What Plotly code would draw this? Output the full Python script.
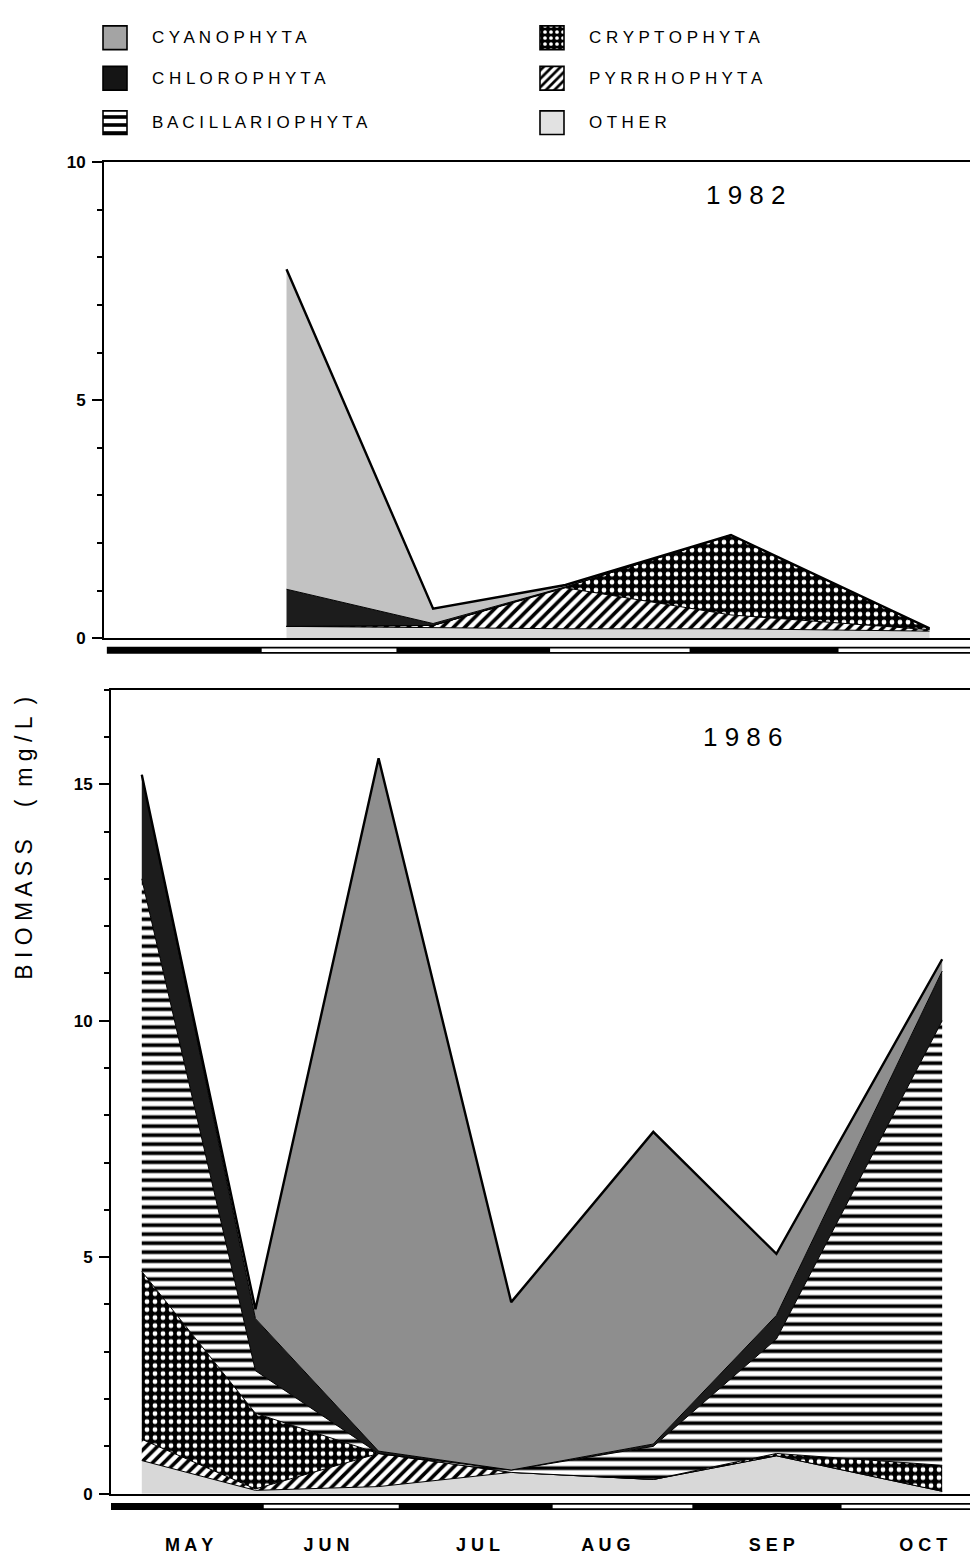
import plotly.graph_objects as go
import pandas as pd

# page is 978 x 1558; the browser puts the plot div 8 px in from the top-left corner
OFF = 8
W, H = 978 - OFF, 1558 - OFF

# ---------------------------------------------------------------- data
# stacking order, bottom -> top
TAXA = ["Other", "Pyrrhophyta", "Cryptophyta", "Bacillariophyta", "Chlorophyta", "Cyanophyta"]

DATES_1982 = ["1982-06-07", "1982-07-08", "1982-08-05", "1982-09-09", "1982-10-21"]
OTHER_1982 = [0.25, 0.22, 0.20, 0.20, 0.15]
PYRRHO_1982 = [0.00, 0.05, 0.86, 0.29, 0.03]
CRYPTO_1982 = [0.00, 0.00, 0.02, 1.68, 0.02]
BACILL_1982 = [0.00, 0.00, 0.00, 0.00, 0.00]
CHLORO_1982 = [0.78, 0.04, 0.00, 0.00, 0.00]
CYANO_1982 = [6.72, 0.31, 0.04, 0.00, 0.01]

DATES_1986 = ["1986-05-07", "1986-05-31", "1986-06-26", "1986-07-24",
              "1986-08-23", "1986-09-18", "1986-10-23"]
OTHER_1986 = [0.70, 0.07, 0.15, 0.45, 0.30, 0.80, 0.05]
PYRRHO_1986 = [0.45, 0.03, 0.70, 0.00, 0.00, 0.00, 0.00]
CRYPTO_1986 = [3.55, 1.60, 0.00, 0.00, 0.00, 0.05, 0.55]
BACILL_1986 = [8.30, 0.90, 0.00, 0.05, 0.70, 2.42, 9.40]
CHLORO_1986 = [2.20, 1.10, 0.05, 0.00, 0.05, 0.50, 1.05]
CYANO_1986 = [0.00, 0.20, 14.65, 3.55, 6.60, 1.30, 0.25]

MONTH_LABELS = ["MAY", "JUN", "JUL", "AUG", "SEP", "OCT"]
MONTH_LABEL_DAYS = ["05-17", "06-15", "07-17", "08-13", "09-17", "10-19"]
MONTH_STARTS = ["05-01", "06-01", "07-01", "08-01", "09-01", "10-01", "11-01"]

Y_TICKS_1982 = [0, 5, 10]
Y_TICKS_1986 = [0, 5, 10, 15]

LEGEND_ORDER = ["Cyanophyta", "Chlorophyta", "Bacillariophyta",
                "Cryptophyta", "Pyrrhophyta", "Other"]

SERIES_1982 = {"Other": OTHER_1982, "Pyrrhophyta": PYRRHO_1982, "Cryptophyta": CRYPTO_1982,
               "Bacillariophyta": BACILL_1982, "Chlorophyta": CHLORO_1982, "Cyanophyta": CYANO_1982}
SERIES_1986 = {"Other": OTHER_1986, "Pyrrhophyta": PYRRHO_1986, "Cryptophyta": CRYPTO_1986,
               "Bacillariophyta": BACILL_1986, "Chlorophyta": CHLORO_1986, "Cyanophyta": CYANO_1986}

# ---------------------------------------------------------------- styles
FONT = "Liberation Sans"


def px_x(p):
    return (p - OFF) / W


def px_y(p):
    return 1 - (p - OFF) / H


def pat(shape, fg, bg, size, solidity):
    return dict(shape=shape, fgcolor=fg, bgcolor=bg, size=size, solidity=solidity,
                fillmode="replace", fgopacity=1)


FILL = {
    "Other": dict(fillcolor="#d8d8d8"),
    "Pyrrhophyta": dict(fillcolor="white", fillpattern=pat("/", "black", "white", 8, 0.45)),
    "Cryptophyta": dict(fillcolor="black", fillpattern=pat(".", "white", "black", 8, 0.28)),
    "Bacillariophyta": dict(fillcolor="white", fillpattern=pat("-", "black", "white", 9, 0.42)),
    "Chlorophyta": dict(fillcolor="#1c1c1c"),
}
CYANO_COLOR = {"1982": "#c2c2c2", "1986": "#8e8e8e"}

LEG_STYLE = {
    "Cyanophyta": dict(color="#a4a4a4"),
    "Chlorophyta": dict(color="#151515"),
    "Bacillariophyta": dict(color="white", pattern=pat("-", "black", "white", 8, 0.45)),
    "Cryptophyta": dict(color="black", pattern=pat(".", "white", "black", 6, 0.3)),
    "Pyrrhophyta": dict(color="white", pattern=pat("/", "black", "white", 6, 0.45)),
    "Other": dict(color="#e2e2e2"),
}

fig = go.Figure()


def add_panel(dates, series, xa, ya, group, year):
    for name in TAXA:
        kw = dict(FILL.get(name, {}))
        if name == "Cyanophyta":
            kw = dict(fillcolor=CYANO_COLOR[year])
        fig.add_trace(go.Scatter(
            x=dates, y=series[name], name=name, stackgroup=group, mode="lines",
            line=dict(color="black", width=2.4 if name == "Cyanophyta" else 1.0),
            xaxis=xa, yaxis=ya, showlegend=False, hoverinfo="x+y+name", **kw))


def add_strip(year, xa, ya, x_start):
    starts = [pd.Timestamp(f"{year}-{m}") for m in MONTH_STARTS]
    fig.add_trace(go.Scatter(
        x=[x_start, starts[-1].strftime("%Y-%m-%d")], y=[0.5, 0.5], mode="lines",
        line=dict(color="black", width=7), xaxis=xa, yaxis=ya,
        showlegend=False, hoverinfo="skip"))
    wx, wy = [], []
    for i in range(1, len(starts) - 1, 2):
        a = starts[i] + pd.Timedelta(hours=18)
        b = starts[i + 1] - pd.Timedelta(hours=18)
        wx += [a.strftime("%Y-%m-%d %H:%M"), b.strftime("%Y-%m-%d %H:%M"), None]
        wy += [0.5, 0.5, None]
    fig.add_trace(go.Scatter(
        x=wx, y=wy, mode="lines", line=dict(color="white", width=3.5),
        xaxis=xa, yaxis=ya, showlegend=False, hoverinfo="skip"))


RANGE_1982 = ["1982-04-29 09:36", "1982-10-31 06:00"]
RANGE_1986 = ["1986-04-30 12:00", "1986-10-30 13:30"]

add_panel(DATES_1982, SERIES_1982, "x", "y", "s82", "1982")
add_panel(DATES_1986, SERIES_1986, "x2", "y2", "s86", "1986")
add_strip("1982", "x", "y3", "1982-04-30 00:00")
add_strip("1986", "x2", "y4", RANGE_1986[0])

# ---------------------------------------------------------------- legend (own axes, page px)
COL_LEFT = [103, 540]
ROW_MID = [29, 70, 115]
SW = 24
LEG_BOTTOM = 138
legend_ann = []
for k, name in enumerate(LEGEND_ORDER):
    c, r = divmod(k, 3)
    st = LEG_STYLE[name]
    fig.add_trace(go.Bar(
        x=[COL_LEFT[c] + SW / 2], y=[SW], base=[ROW_MID[r] - SW / 2], width=[SW],
        marker=dict(line=dict(color="black", width=1.6), **st),
        xaxis="x5", yaxis="y5", showlegend=False, hoverinfo="skip"))
    legend_ann.append(dict(
        x=COL_LEFT[c] + 47, y=ROW_MID[r], xref="x5", yref="y5",
        text=" ".join(name.upper()), showarrow=False, xanchor="left", yanchor="middle",
        font=dict(family=FONT, size=17, color="black")))

# ---------------------------------------------------------------- layout
axis_common = dict(showgrid=False, zeroline=False, linecolor="black", linewidth=2)

yaxis_common = dict(
    axis_common, showline=True, ticks="outside", ticklen=10, tickwidth=2, tickcolor="black",
    minor=dict(dtick=1, ticks="outside", ticklen=5, tickwidth=1.5, tickcolor="black"),
    ticklabelstandoff=3,
    tickfont=dict(family=FONT, size=17, color="black", weight="bold"))

fig.update_layout(
    width=W, height=H, margin=dict(l=0, r=0, t=0, b=0),
    paper_bgcolor="white", plot_bgcolor="rgba(0,0,0,0)", showlegend=False, barmode="overlay",
    font=dict(family=FONT, color="black"),
    xaxis=dict(axis_common, domain=[px_x(104), 1], type="date", range=RANGE_1982,
               anchor="y", showline=True, mirror=True, showticklabels=False, ticks=""),
    yaxis=dict(yaxis_common, domain=[px_y(637), px_y(155)], range=[0, 10], anchor="x",
               tickvals=Y_TICKS_1982),
    xaxis2=dict(axis_common, domain=[px_x(111), 1], type="date", range=RANGE_1986,
                anchor="y2", showline=True, mirror=True, ticks="",
                tickvals=[f"1986-{d}" for d in MONTH_LABEL_DAYS],
                ticktext=[" ".join(m) for m in MONTH_LABELS],
                ticklabelstandoff=34,
                tickfont=dict(family=FONT, size=18, color="black", weight="bold")),
    yaxis2=dict(yaxis_common, domain=[px_y(1503), px_y(689)], range=[0, 17], anchor="x2",
                tickvals=Y_TICKS_1986),
    yaxis3=dict(domain=[px_y(656), px_y(642)], range=[0, 1], anchor="x", visible=False,
                fixedrange=True),
    yaxis4=dict(domain=[px_y(1523), px_y(1509)], range=[0, 1], anchor="x2", visible=False,
                fixedrange=True),
    xaxis5=dict(domain=[0, 1], range=[OFF, OFF + W], anchor="y5", visible=False,
                fixedrange=True),
    yaxis5=dict(domain=[px_y(LEG_BOTTOM), 1], range=[LEG_BOTTOM, OFF], anchor="x5",
                visible=False, fixedrange=True),
    annotations=legend_ann + [
        dict(x=px_x(746), y=px_y(188), xref="paper", yref="paper", text="1 9 8 2",
             showarrow=False, xanchor="center", yanchor="middle",
             font=dict(family=FONT, size=26, color="black")),
        dict(x=px_x(743), y=px_y(737), xref="paper", yref="paper", text="1 9 8 6",
             showarrow=False, xanchor="center", yanchor="middle",
             font=dict(family=FONT, size=26, color="black")),
        dict(x=px_x(24), y=px_y(840), xref="paper", yref="paper",
             text="B I O M A S S     (  m g / L  )", textangle=-90,
             showarrow=False, xanchor="center", yanchor="middle",
             font=dict(family=FONT, size=23, color="black")),
    ],
)

fig.write_html("out.html")
